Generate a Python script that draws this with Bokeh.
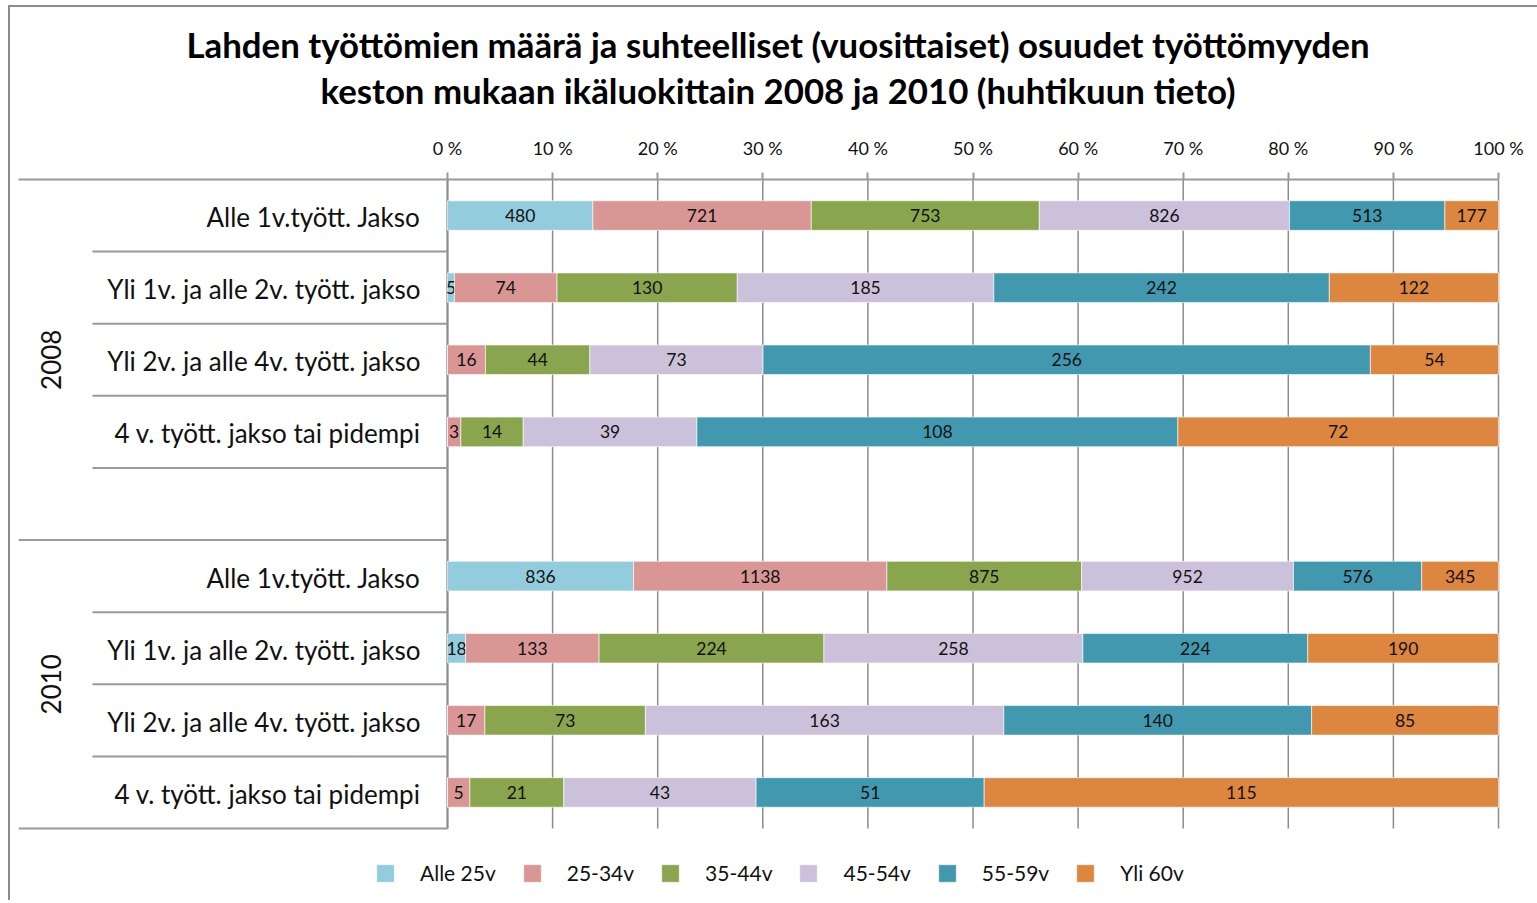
import math
from bokeh.plotting import figure
from bokeh.models import (Range1d, FixedTicker, CustomJSTickFormatter, Title,
                          Legend, LegendItem, ColumnDataSource, InlineStyleSheet)
from bokeh.embed import file_html
from bokeh.resources import INLINE
from bokeh.core.properties import value

# ---------------- data ----------------
title_lines = ["Lahden työttömien määrä ja suhteelliset (vuosittaiset) osuudet työttömyyden",
               "keston mukaan ikäluokittain 2008 ja 2010 (huhtikuun tieto)"]
years = ["2008", "2010"]
durations = ["Alle 1v.tyött. Jakso",
             "Yli 1v. ja alle 2v. tyött. jakso",
             "Yli 2v. ja alle 4v. tyött. jakso",
             "4 v. tyött. jakso tai pidempi"]
series = ["Alle 25v", "25-34v", "35-44v", "45-54v", "55-59v", "Yli 60v"]
colors = ["#93CDDD", "#D99694", "#89A54E", "#CCC1DA", "#4198AF", "#DD8640"]

# order: 2008 (4 durations), 2010 (4 durations)
alle_25 = [480, 5, 0, 0, 836, 18, 0, 0]
v25_34 = [721, 74, 16, 3, 1138, 133, 17, 5]
v35_44 = [753, 130, 44, 14, 875, 224, 73, 21]
v45_54 = [826, 185, 73, 39, 952, 258, 163, 43]
v55_59 = [513, 242, 256, 108, 576, 224, 140, 51]
yli_60 = [177, 122, 54, 72, 345, 190, 85, 115]
pct_ticks = [0, 10, 20, 30, 40, 50, 60, 70, 80, 90, 100]

all_series = [alle_25, v25_34, v35_44, v45_54, v55_59, yli_60]

# ---------------- layout helpers ----------------
W, H = 1537, 900
FR_L, FR_R, FR_T, FR_B = 18, W, 179, H      # frame in canvas px
X0, X100 = 447, 1498                         # canvas x of 0 % and 100 %
UNIT = X100 - X0
N_ROWS = 9
ROW = (828 - FR_T) / N_ROWS
FONT = "Lato"
TXT = "#111111"
GRID = "#8C8C8C"


def px_x(cx):
    return (cx - X0) / UNIT


rows = []
for g in range(len(years)):
    for i in range(len(durations)):
        rows.append(g * 5 + i + 0.5)

totals = [sum(s[k] for s in all_series) for k in range(len(rows))]

border_css = InlineStyleSheet(css="""
:host { position: relative; }
:host::after {
  content: ""; position: absolute; left: 8px; top: 5px; right: 0; bottom: 0;
  border-top: 2px solid #8C8C8C; border-left: 2px solid #8C8C8C;
  pointer-events: none; z-index: 10;
}
""")

p = figure(width=W, height=H, output_backend="svg", toolbar_location=None,
           x_range=Range1d(px_x(FR_L), px_x(FR_R)),
           y_range=Range1d((FR_B - FR_T) / ROW, 0),
           x_axis_location="above", y_axis_location=None,
           min_border_left=FR_L, min_border_right=0,
           min_border_top=FR_T, min_border_bottom=0,
           stylesheets=[border_css])
p.outline_line_color = None
p.xgrid.visible = False
p.ygrid.visible = False
p.background_fill_color = "white"
p.border_fill_color = "white"

ax = p.xaxis[0]
ax.bounds = (px_x(FR_L), 1.0)
ax.ticker = FixedTicker(ticks=[t / 100 for t in pct_ticks])
ax.formatter = CustomJSTickFormatter(code="return Math.round(tick*100) + ' %';")
ax.axis_line_color = "#9A9A9A"
ax.axis_line_width = 2
ax.major_tick_line_color = "#9A9A9A"
ax.major_tick_line_width = 2
ax.major_tick_out = 7
ax.major_tick_in = 0
ax.minor_tick_line_color = None
ax.major_label_standoff = 14
ax.major_label_text_font = FONT
ax.major_label_text_font_size = "18px"
ax.major_label_text_color = TXT

# grid lines (only across the bar rows)
gx = [t / 100 for t in pct_ticks]
p.segment(x0=gx, y0=[0] * len(gx), x1=gx, y1=[N_ROWS] * len(gx),
          line_color=GRID, line_width=1.5)
# category axis line
p.segment(x0=[0], y0=[0], x1=[0], y1=[N_ROWS], line_color=GRID, line_width=2)

# separators in label area
inner_x = px_x(92)
outer_x = px_x(FR_L)
sep_inner = [1, 2, 3, 4, 6, 7, 8]
sep_outer = [5, 9]
p.segment(x0=[inner_x] * len(sep_inner), y0=sep_inner, x1=[0] * len(sep_inner), y1=sep_inner,
          line_color="#9A9A9A", line_width=2)
p.segment(x0=[outer_x] * len(sep_outer), y0=sep_outer, x1=[0] * len(sep_outer), y1=sep_outer,
          line_color="#9A9A9A", line_width=2)

# bars
renderers = []
lefts = [0.0] * len(rows)
for name, vals, col in zip(series, all_series, colors):
    fr = [v / t for v, t in zip(vals, totals)]
    rights = [l + f for l, f in zip(lefts, fr)]
    src = ColumnDataSource(dict(y=rows, left=lefts, right=rights))
    r = p.hbar(y="y", left="left", right="right", height=0.41, source=src,
               fill_color=col, line_color="white", line_alpha=0.6, line_width=1)
    renderers.append(r)
    lab = [(l + f / 2, y, str(v)) for l, f, y, v in zip(lefts, fr, rows, vals) if v > 0]
    tsrc = ColumnDataSource(dict(x=[a[0] for a in lab], y=[a[1] for a in lab],
                                 t=[a[2] for a in lab]))
    p.text(x="x", y="y", text="t", source=tsrc, text_align="center",
           text_baseline="middle", text_font=value(FONT), text_font_size="17.5px",
           text_color=TXT)
    lefts = rights

# category labels
cat_labels = durations * len(years)
p.text(x=[px_x(420)] * len(rows), y=[r + 0.02 for r in rows], text=cat_labels,
       text_align="right", text_baseline="middle", text_font=value(FONT),
       text_font_size="26px", text_color=TXT)

# year labels
p.text(x=[px_x(50)] * 2, y=[2.5, 7.0], text=years, angle=math.pi / 2,
       text_align="center", text_baseline="middle", text_font=value(FONT),
       text_font_size="26px", text_color=TXT)

# title: spacer, second line, first line (first added sits closest to the axis)
p.add_layout(Title(text=" ", text_font_size="1px", standoff=18), "above")
p.add_layout(Title(text=title_lines[1], align="center", standoff=3,
                   text_font=FONT, text_font_style="bold", text_font_size="34.8px",
                   text_color="#000000"), "above")
p.add_layout(Title(text=title_lines[0], align="center", standoff=4,
                   text_font=FONT, text_font_style="bold", text_font_size="34.8px",
                   text_color="#000000"), "above")

legend = Legend(items=[LegendItem(label=s, renderers=[r]) for s, r in zip(series, renderers)],
                orientation="horizontal", location=(374 - FR_L, 15),
                glyph_width=22, glyph_height=22, label_standoff=24, spacing=25,
                padding=0, margin=0, border_line_color=None, background_fill_alpha=0,
                label_text_font=FONT, label_text_font_size="21px",
                label_text_color=TXT)
p.add_layout(legend, "center")

open("out.html", "w").write(file_html(p, INLINE))
